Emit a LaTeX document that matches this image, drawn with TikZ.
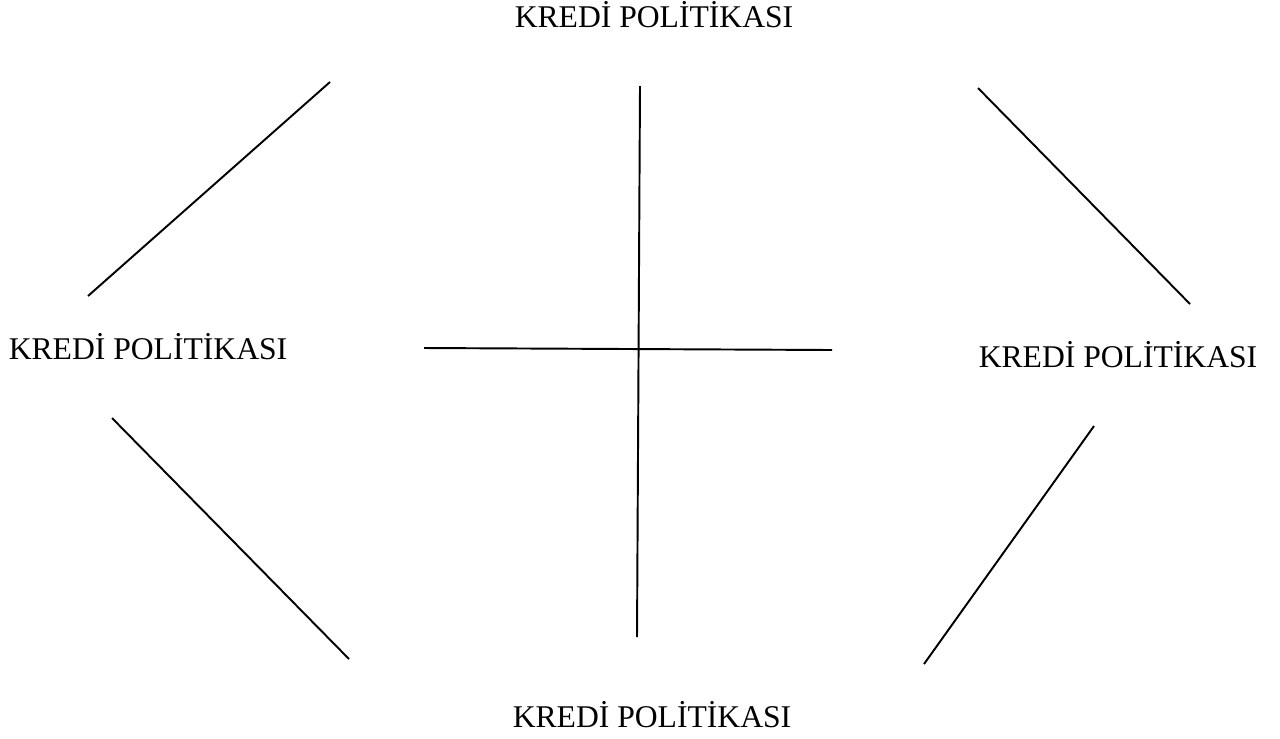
\documentclass[tikz,border=0pt]{standalone}
\usepackage{fontspec}
\setmainfont{Liberation Serif}
\usetikzlibrary{positioning}

\begin{document}
\begin{tikzpicture}[x=0.02cm, y=-0.02cm, line width=1.1pt,
    kredi/.style={inner sep=0pt, anchor=base, font=\fontsize{18}{21}\selectfont}]
  \useasboundingbox (0,0) rectangle (1280,738);
  % labels
  \node[kredi] (ust) at (654,27) {KREDİ POLİTİKASI};
  \node[kredi] (sol) at (148,359) {KREDİ POLİTİKASI};
  \node[kredi] (sag) at (1118,367) {KREDİ POLİTİKASI};
  \node[kredi] (alt) at (652,727) {KREDİ POLİTİKASI};
  % axes
  \coordinate (v1) at (640,86);
  \coordinate (v2) at (637,637);
  \coordinate (h1) at (424,348);
  \coordinate (h2) at (832,350);
  \draw (v1) -- (v2);
  \draw (h1) -- (h2);
  % diagonals
  \coordinate (a1) at (88,296);
  \coordinate (a2) at (330,82);
  \coordinate (b1) at (112,418);
  \coordinate (b2) at (349,659);
  \coordinate (c1) at (978,88);
  \coordinate (c2) at (1190,304);
  \coordinate (d1) at (1094,426);
  \coordinate (d2) at (924,664);
  \draw (a1) -- (a2);
  \draw (b1) -- (b2);
  \draw (c1) -- (c2);
  \draw (d1) -- (d2);
\end{tikzpicture}
\end{document}
